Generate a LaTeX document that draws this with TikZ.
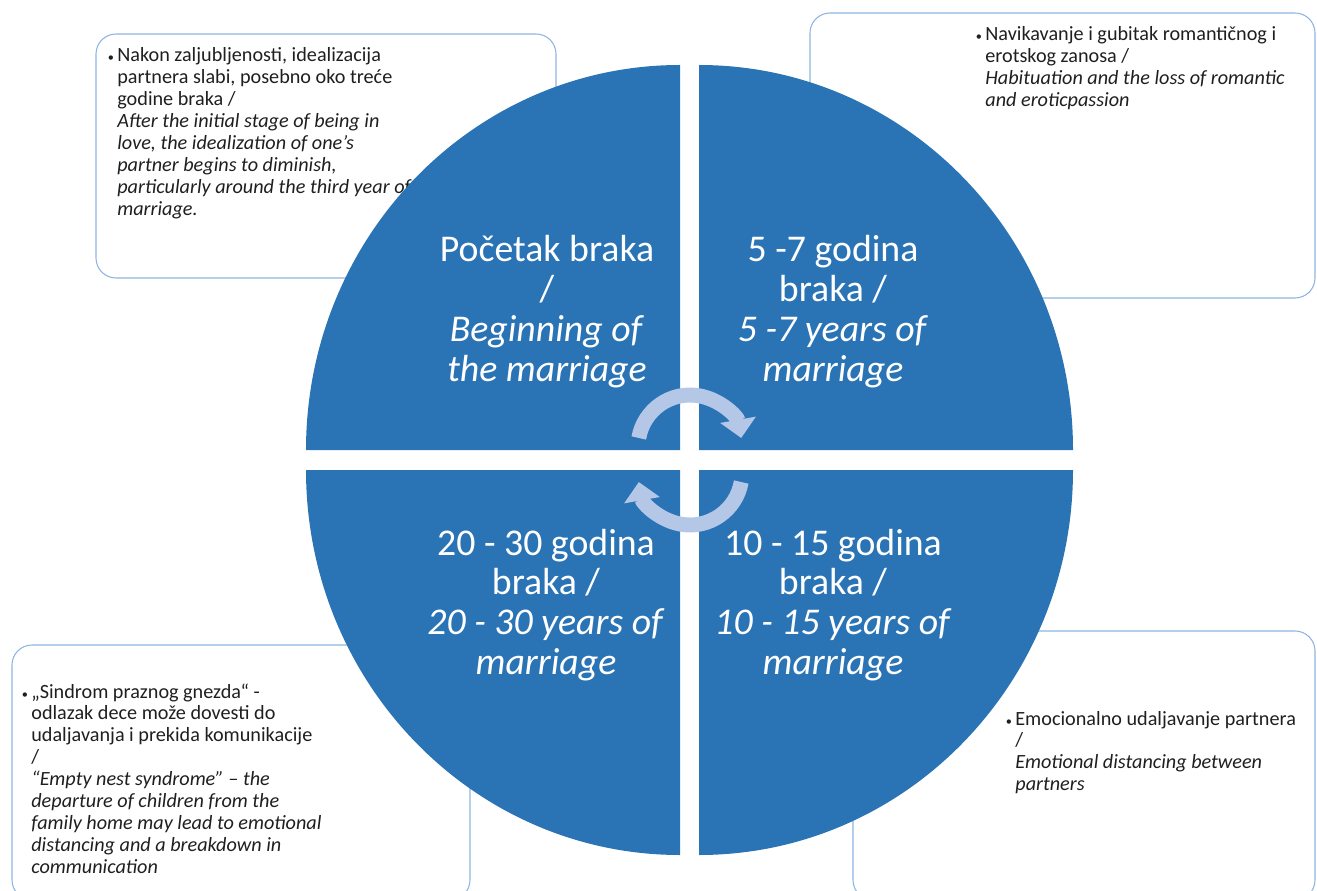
\documentclass[tikz,border=0pt]{standalone}
\usepackage{fontspec}
\setmainfont{Carlito}
\usetikzlibrary{arrows.meta}
\definecolor{quadblue}{HTML}{2A74B6}
\definecolor{noteline}{HTML}{8DB4E2}
\definecolor{turnblue}{HTML}{B4C7E7}
% first line of each block sits on the node's base
\newcommand{\notelines}[1]{\begin{tabular}[t]{@{}l@{}}#1\end{tabular}}
\newcommand{\quadlines}[1]{\begin{tabular}[t]{@{}c@{}}#1\end{tabular}}
\newcommand{\dotmark}{\llap{{\scriptsize•}\,}}
\tikzset{
  note/.style={draw=noteline,line width=0.6pt,rounded corners=0.4cm},
  notetext/.style={anchor=base west,inner sep=0pt,text=black!88,
    font=\fontsize{11.5}{12.5}\selectfont},
  quad/.style={fill=quadblue},
  bigtext/.style={anchor=base,inner sep=0pt,text=white,
    font=\fontsize{21.5}{22.7}\selectfont},
  turn/.style={draw=turnblue,line width=8.5pt,-{Triangle[width=20pt,length=10.5pt]}}
}
\begin{document}
\begin{tikzpicture}[x=0.02cm,y=0.02cm]
\useasboundingbox (0,0) rectangle (1317,890);
% boxes behind the circle
\draw[note] (96,612) rectangle (556,856);
\draw[note] (810,592) rectangle (1315,877);
\draw[note] (12,-10) rectangle (470,245);
\draw[note] (853,-10) rectangle (1315,259);
\node[notetext] (tl) at (117,828) {\notelines{\dotmark Nakon zaljubljenosti, idealizacija\\
partnera slabi, posebno oko treće\\godine braka /\\
\textit{After the initial stage of being in}\\\textit{love, the idealization of one’s}\\
\textit{partner begins to diminish,}\\\textit{particularly around the third year of}\\
\textit{marriage.}}};
\node[notetext] (tr) at (985,849) {\notelines{\dotmark Navikavanje i gubitak romantičnog i\\
erotskog zanosa /\\\textit{Habituation and the loss of romantic}\\
\textit{and eroticpassion}}};
\node[notetext] (bl) at (31,192) {\notelines{\dotmark „Sindrom praznog gnezda“ -\\
odlazak dece može dovesti do\\udaljavanja i prekida komunikacije\\/\\
\textit{“Empty nest syndrome” – the}\\\textit{departure of children from the}\\
\textit{family home may lead to emotional}\\\textit{distancing and a breakdown in}\\
\textit{communication}}};
\node[notetext] (br) at (1015,165) {\notelines{\dotmark Emocionalno udaljavanje partnera\\/\\
\textit{Emotional distancing between}\\\textit{partners}}};
% four quarters
\fill[quad] (680,440) -- (680,825) arc[start angle=90,end angle=180,x radius=374,y radius=385] -- cycle;
\fill[quad] (699,440) -- (1073,440) arc[start angle=0,end angle=90,x radius=374,y radius=385] -- cycle;
\fill[quad] (680,420) -- (306,420) arc[start angle=180,end angle=270,x radius=374,y radius=385] -- cycle;
\fill[quad] (699,420) -- (699,35) arc[start angle=270,end angle=360,x radius=374,y radius=385] -- cycle;
\node[bigtext] (q1) at (547,628) {\quadlines{Početak braka\\/\\\textit{Beginning of}\\\textit{the marriage}}};
\node[bigtext] (q2) at (833,628) {\quadlines{5 -7 godina\\braka /\\\textit{5 -7 years of}\\\textit{marriage}}};
\node[bigtext] (q3) at (546,335) {\quadlines{20 - 30 godina\\braka /\\\textit{20 - 30 years of}\\\textit{marriage}}};
\node[bigtext] (q4) at (833,335) {\quadlines{10 - 15 godina\\braka /\\\textit{10 - 15 years of}\\\textit{marriage}}};
% turning arrows
\draw[turn] (690,443) ++(170:52) arc[start angle=170,end angle=10,radius=52];
\draw[turn] (690,417) ++(-10:52) arc[start angle=-10,end angle=-170,radius=52];
\end{tikzpicture}
\end{document}
